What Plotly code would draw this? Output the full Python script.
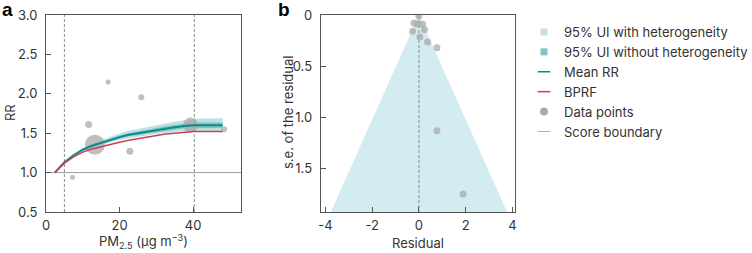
import plotly.graph_objects as go

# ---------------- data: panel a ----------------
pm = [2.4, 5, 7.5, 10, 12.5, 15, 17.5, 20, 22.5, 25, 27.5, 30, 32.5, 35, 37.5, 40, 42.5, 45, 48]
mean_rr = [1.00, 1.13, 1.22, 1.29, 1.34, 1.38, 1.42, 1.45, 1.48, 1.50, 1.52, 1.54, 1.56, 1.575, 1.59, 1.60, 1.60, 1.60, 1.60]
bprf = [1.00, 1.12, 1.20, 1.26, 1.30, 1.33, 1.36, 1.385, 1.41, 1.43, 1.45, 1.47, 1.49, 1.50, 1.51, 1.52, 1.52, 1.52, 1.52]
ui_het_upper = [1.00, 1.14, 1.24, 1.315, 1.37, 1.415, 1.46, 1.495, 1.53, 1.55, 1.575, 1.60, 1.625, 1.645, 1.665, 1.68, 1.685, 1.685, 1.69]
ui_het_lower = [1.00, 1.12, 1.205, 1.27, 1.315, 1.35, 1.385, 1.41, 1.435, 1.455, 1.47, 1.49, 1.505, 1.515, 1.525, 1.53, 1.53, 1.53, 1.53]
ui_upper = [1.00, 1.135, 1.23, 1.30, 1.355, 1.395, 1.44, 1.47, 1.50, 1.525, 1.545, 1.565, 1.59, 1.605, 1.62, 1.635, 1.635, 1.635, 1.635]
ui_lower = [1.00, 1.125, 1.21, 1.28, 1.325, 1.365, 1.40, 1.43, 1.46, 1.475, 1.495, 1.515, 1.53, 1.545, 1.56, 1.565, 1.565, 1.565, 1.565]

pts_x = [7.2, 11.6, 13.3, 16.9, 22.8, 25.9, 39.3, 48.4]
pts_y = [0.94, 1.61, 1.355, 2.15, 1.27, 1.955, 1.605, 1.55]
pts_weight = [5, 7, 20, 5, 7, 6, 15, 6]

score_bounds = [5.0, 40.3]
a_xrange = [0, 53]
a_yrange = [0.5, 3.0]
a_xticks = [0, 20, 40]
a_yticks = [0.5, 1.0, 1.5, 2.0, 2.5, 3.0]

# ---------------- data: panel b ----------------
residual = [0.0, -0.21, -0.05, 0.16, 0.24, -0.27, 0.04, 0.37, 0.77, 0.77, 1.89]
se_resid = [0.01, 0.078, 0.09, 0.09, 0.143, 0.16, 0.214, 0.263, 0.32, 1.13, 1.75]
funnel_se = [0.0, 1.925]
funnel_half = [0.0, 3.77]
b_xrange = [-4.2, 4.12]
b_yrange = [1.925, 0]
b_xticks = [-4, -2, 0, 2, 4]
b_xtext = ["-4", "-2", "0", "2", "4"]
b_yticks = [0, 0.5, 1.0, 1.5]
b_ytext = ["0", "0.5", "1.0", "1.5"]

legend_names = ["95% UI with heterogeneity", "95% UI without heterogeneity", "Mean RR",
                "BPRF", "Data points", "Score boundary"]

# ---------------- styles ----------------
FONT = "Inter"
C_LIGHT = "#bfe1e3"
C_DARK = "#80c4c6"
C_MEAN = "#0f8a88"
C_BPRF = "#c8414f"
C_PT = "#a9a9a9"
C_FUNNEL = "#d3ecf1"
C_AXIS = "#555555"
C_DASH = "#8a8a8a"
C_TEXT = "#333333"

fig = go.Figure()

# bands (panel a)
fig.add_trace(go.Scatter(x=pm + pm[::-1], y=ui_het_upper + ui_het_lower[::-1], fill="toself",
                         fillcolor=C_LIGHT, line=dict(width=0), mode="lines",
                         showlegend=False, xaxis="x", yaxis="y", hoverinfo="skip"))
fig.add_trace(go.Scatter(x=pm + pm[::-1], y=ui_upper + ui_lower[::-1], fill="toself",
                         fillcolor=C_DARK, line=dict(width=0), mode="lines",
                         showlegend=False, xaxis="x", yaxis="y", hoverinfo="skip"))

# reference line RR=1
fig.add_trace(go.Scatter(x=a_xrange, y=[1.0, 1.0], mode="lines", line=dict(color="#9a9a9a", width=1),
                         showlegend=False, xaxis="x", yaxis="y"))

# score boundaries
for b in score_bounds:
    fig.add_trace(go.Scatter(x=[b, b], y=a_yrange, mode="lines",
                             line=dict(color=C_DASH, width=1, dash="3px,2px"),
                             showlegend=False, xaxis="x", yaxis="y"))

# data points (panel a)
fig.add_trace(go.Scatter(x=pts_x, y=pts_y, mode="markers",
                         marker=dict(size=pts_weight, color=C_PT, opacity=0.75, line=dict(width=0)),
                         showlegend=False, xaxis="x", yaxis="y"))

# curves
fig.add_trace(go.Scatter(x=pm, y=mean_rr, mode="lines", line=dict(color=C_MEAN, width=2),
                         showlegend=False, xaxis="x", yaxis="y"))
fig.add_trace(go.Scatter(x=pm, y=bprf, mode="lines", line=dict(color=C_BPRF, width=1.5),
                         showlegend=False, xaxis="x", yaxis="y"))

# panel b funnel
fig.add_trace(go.Scatter(x=[-funnel_half[1], funnel_half[0], funnel_half[1]],
                         y=[funnel_se[1], funnel_se[0], funnel_se[1]],
                         fill="toself", fillcolor=C_FUNNEL, line=dict(width=0), mode="lines",
                         showlegend=False, xaxis="x2", yaxis="y2", hoverinfo="skip"))
fig.add_trace(go.Scatter(x=[0, 0], y=[b_yrange[1], b_yrange[0]], mode="lines",
                         line=dict(color=C_DASH, width=1, dash="3px,2px"),
                         showlegend=False, xaxis="x2", yaxis="y2"))
fig.add_trace(go.Scatter(x=residual, y=se_resid, mode="markers",
                         marker=dict(size=7, color=C_PT, opacity=0.75, line=dict(width=0)),
                         showlegend=False, xaxis="x2", yaxis="y2"))

# legend-only entries (compact symbols, like the reference)
leg_markers = [
    dict(symbol="square", size=7, color=C_LIGHT, line=dict(width=0)),
    dict(symbol="square", size=7, color=C_DARK, line=dict(width=0)),
    dict(symbol="line-ew", size=9, line=dict(width=1.5, color=C_MEAN)),
    dict(symbol="line-ew", size=9, line=dict(width=1.5, color=C_BPRF)),
    dict(symbol="circle", size=8, color=C_PT, line=dict(width=0)),
    dict(symbol="line-ew", size=9, line=dict(width=1, color="#b0b0b0")),
]
for name, mk in zip(legend_names, leg_markers):
    fig.add_trace(go.Scatter(x=[None], y=[None], mode="markers", marker=mk, name=name,
                             xaxis="x2", yaxis="y2"))

W, H = 752, 253
ax_common = dict(showline=True, linecolor=C_AXIS, linewidth=1, mirror=True, ticks="inside",
                 ticklen=5, tickcolor=C_AXIS, showgrid=False, zeroline=False, automargin=False,
                 tickfont=dict(family=FONT, size=13, color=C_TEXT))

y_dom = [41 / H, 238 / H]
fig.update_layout(
    width=W, height=H, margin=dict(l=0, r=0, t=0, b=0, autoexpand=False),
    paper_bgcolor="white", plot_bgcolor="white",
    font=dict(family=FONT, size=13, color=C_TEXT),
    xaxis=dict(domain=[46 / W, 241 / W], range=a_xrange, tickvals=a_xticks, anchor="y",
               ticklabelstandoff=1, **ax_common),
    yaxis=dict(domain=y_dom, range=a_yrange, tickvals=a_yticks, ticktext=[f"{v:.1f}" for v in a_yticks],
               anchor="x", ticklabelstandoff=5, **ax_common),
    xaxis2=dict(domain=[320.7 / W, 515.3 / W], range=b_xrange, tickvals=b_xticks, ticktext=b_xtext,
                anchor="y2", ticklabelstandoff=1, **ax_common),
    yaxis2=dict(domain=y_dom, range=b_yrange, tickvals=b_yticks, ticktext=b_ytext, anchor="x2",
                ticklabelstandoff=5, **ax_common),
    legend=dict(x=524 / W, y=1 - 17 / H, xanchor="left", yanchor="top", itemwidth=30,
                tracegroupgap=0, font=dict(family=FONT, size=13, color=C_TEXT), bgcolor="rgba(0,0,0,0)"),
    showlegend=True,
)

ann = [
    dict(text="<b>a</b>", x=0 / W, y=1 - 10 / H, xanchor="left", yanchor="middle",
         font=dict(family="Liberation Sans", size=19, color="black")),
    dict(text="<b>b</b>", x=276 / W, y=1 - 10 / H, xanchor="left", yanchor="middle",
         font=dict(family="Liberation Sans", size=19, color="black")),
    dict(text="RR", x=10 / W, y=1 - 113 / H, textangle=-90, xanchor="center", yanchor="middle",
         font=dict(family=FONT, size=13, color=C_TEXT)),
    dict(text="PM<sub>2.5</sub> (μg m<sup>−3</sup>)", x=143 / W, y=1 - 241 / H, xanchor="center",
         yanchor="middle", font=dict(family=FONT, size=13, color=C_TEXT)),
    dict(text="s.e. of the residual", x=288 / W, y=1 - 113 / H, textangle=-90, xanchor="center",
         yanchor="middle", font=dict(family=FONT, size=13, color=C_TEXT)),
    dict(text="Residual", x=418 / W, y=1 - 243 / H, xanchor="center", yanchor="middle",
         font=dict(family=FONT, size=13, color=C_TEXT)),
]
for a in ann:
    fig.add_annotation(xref="paper", yref="paper", showarrow=False, **a)

fig.write_html("out.html", config={"displayModeBar": False},
               post_script="document.body.style.margin='0px';")
